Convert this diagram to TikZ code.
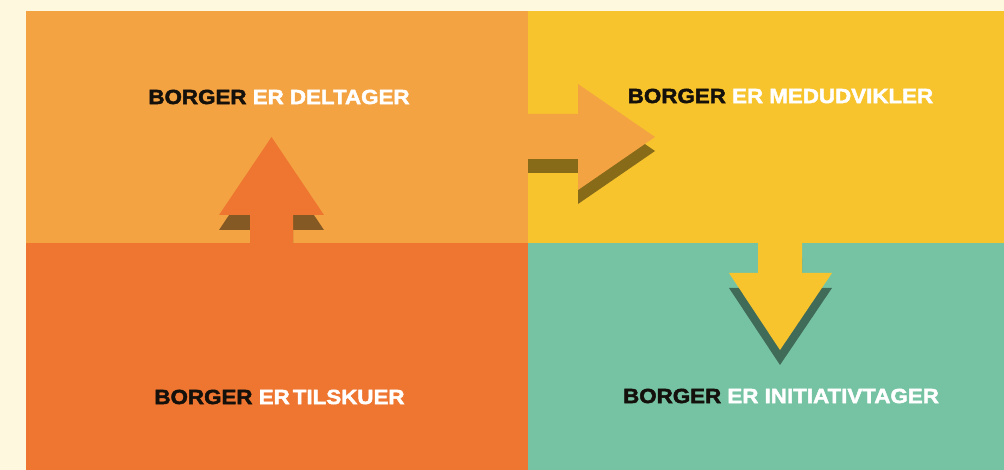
\documentclass[tikz,border=0pt]{standalone}
\usepackage{fontspec}
\newfontfamily\lblfont[FakeStretch=1.09,BoldFeatures={FakeBold=2.2}]{Liberation Sans}
\definecolor{cream}{RGB}{254,249,222}
\definecolor{lorange}{RGB}{244,163,66}
\definecolor{dorange}{RGB}{238,118,48}
\definecolor{myyellow}{RGB}{247,196,46}
\definecolor{myteal}{RGB}{118,195,163}
\definecolor{nearblack}{RGB}{20,16,12}
\tikzset{
  quad/.style={draw=none},
  shadowfill/.style={fill=black,fill opacity=0.45,draw=none},
  lbl/.style={font=\lblfont\bfseries\fontsize{20.5}{24}\selectfont,inner sep=0pt,anchor=center},
  blk/.style={text=nearblack},
}
\newcommand{\wht}[1]{\textcolor{white}{#1}}
\begin{document}
\begin{tikzpicture}[x=1pt,y=-1pt]
\useasboundingbox (0,0) rectangle (1004,470);
\fill[cream] (0,0) rectangle (1004,470);
% quadrants
\fill[lorange] (26,11) rectangle (528,243);
\fill[myyellow] (528,11) rectangle (1004,243);
\fill[dorange] (26,243) rectangle (528,470);
\fill[myteal] (528,243) rectangle (1004,470);
% up arrow (shadow then arrow)
\begin{scope}
  \clip (26,11) rectangle (528,243);
  \fill[shadowfill,shift={(0,15)}] (250,243) -- (250,215) -- (219,215) -- (271.5,137) -- (324,215) -- (293,215) -- (293,243) -- cycle;
\end{scope}
\fill[dorange] (250,243) -- (250,215) -- (219,215) -- (271.5,137) -- (324,215) -- (293,215) -- (293,243) -- cycle;
% right arrow
\begin{scope}
  \clip (528,11) rectangle (1004,243);
  \fill[shadowfill,shift={(0,14)}] (528,114) -- (578,114) -- (578,84) -- (655,137) -- (578,190) -- (578,159) -- (528,159) -- cycle;
\end{scope}
\fill[lorange] (527,114) -- (578,114) -- (578,84) -- (655,137) -- (578,190) -- (578,159) -- (527,159) -- cycle;
% down arrow
\begin{scope}
  \clip (528,243) rectangle (1004,470);
  \fill[shadowfill,shift={(0,15)}] (758,243) -- (802,243) -- (802,273) -- (832,273) -- (780,350) -- (729,273) -- (758,273) -- cycle;
\end{scope}
\fill[myyellow] (758,242) -- (802,242) -- (802,273) -- (832,273) -- (780,350) -- (729,273) -- (758,273) -- cycle;
% labels
\node[lbl] (deltager) at (279,97) {\textcolor{nearblack}{BORGER} \wht{ER DELTAGER}};
\node[lbl] (medudvikler) at (780.5,96) {\textcolor{nearblack}{BORGER} \wht{ER MEDUDVIKLER}};
\node[lbl] (tilskuer) at (279.5,397) {\textcolor{nearblack}{BORGER} \wht{ER\kern0.15em TILSKUER}};
\node[lbl] (initiativtager) at (781,396) {\textcolor{nearblack}{BORGER} \wht{ER INITIATIVTAGER}};
\end{tikzpicture}
\end{document}
